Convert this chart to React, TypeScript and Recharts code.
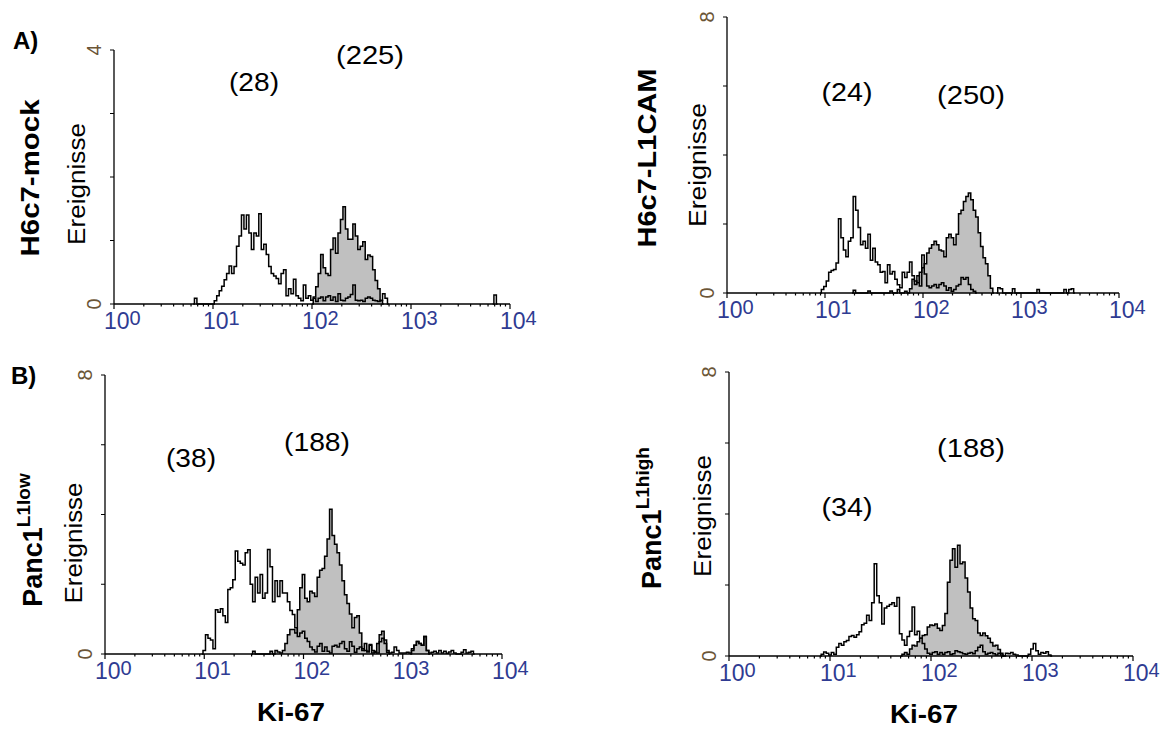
import React from 'react';
import { ComposedChart, Area, Line, XAxis, YAxis } from 'recharts';

const FONT = '"Liberation Sans", Arial, Helvetica, sans-serif';
const TICK_BLUE = '#2f3b92';
const Y_LABEL_COLOR = '#6b5536';
const FILL_GRAY = '#c0c0c0';

// histogram bins: 40 bins per decade on a 4-decade log axis (x in log10 units)
const BINS_PER_DECADE = 40;
const BIN_COUNT = 160;
const DECADES = [0, 1, 2, 3, 4];
const MINOR_MULTIPLIERS = [2, 3, 4, 5, 6, 7, 8, 9];

type Segment = { start: number; values: number[] };

// ---- A) H6c7-mock (y max 4)
const mockOpen: Segment[] = [
  { start: 32, values: [0, 0.09, 0, 0, 0, 0, 0, 0, 0,
    0.05, 0.13, 0.21, 0.28, 0.38, 0.48, 0.6, 0.48, 0.59, 0.91,
    1.07, 1.4, 1.18, 1.4, 1.12, 0.86, 1.12, 1.07, 1.42, 0.86,
    0.94, 0.78, 0.59, 0.48, 0.44, 0.4, 0.32, 0.48, 0.54, 0.13,
    0.24, 0.16, 0.39, 0.13, 0.09, 0.05, 0.3, 0.09, 0.13, 0.06,
    0.09, 0.04, 0.09, 0.11, 0.05, 0.11, 0.13, 0.06, 0.11, 0.04,
    0.16, 0.06, 0.05, 0.09, 0.11, 0.15, 0.3, 0.06, 0.05, 0.06,
    0.04, 0.09, 0.11, 0.09, 0.06, 0.05, 0.04, 0.06, 0.16, 0.09, 0] },
  { start: 153, values: [0, 0.14, 0] },
];
const mockFilled: Segment[] = [
  { start: 80, values: [0, 0.11, 0.27, 0.48, 0.78, 0.57, 0.48, 0.45, 0.86, 1.04,
    0.8, 1.12, 1.33, 1.53, 1.18, 1.02, 1.02, 1.26, 1.07, 0.86,
    0.91, 0.98, 0.7, 0.77, 0.75, 0.54, 0.37, 0.24, 0.05, 0] },
];

// ---- A) H6c7-L1CAM (y max 8)
const l1camOpen: Segment[] = [
  { start: 38, values: [0, 0.1, 0.19, 0.35, 0.6, 0.65, 0.68, 0.87, 2.15, 1.6,
    1.25, 1.05, 1.5, 1.6, 2.8, 2.4, 1.9, 1.4, 1.5, 1.3,
    1.7, 0.95, 1.3, 0.9, 0.82, 0.6, 0.62, 0.3, 0.82, 0.55,
    0.62, 0.4, 0.24, 0.15, 0.6, 0.45, 0.6, 0.9, 0.5, 0.25,
    0.5, 0.2, 1.1, 0.55, 0.2, 0.15, 0.2, 0.25, 0.15, 0.25,
    0.3, 0.2, 0.08, 0.15, 0.05, 0.1, 0.2, 0.25, 0.45, 0.4,
    0.45, 0.25, 0.1, 0.05, 0] },
  { start: 110, values: [0, 0.15, 0.12, 0, 0, 0, 0, 0.12, 0,
    0, 0, 0, 0, 0, 0, 0, 0, 0.1, 0, 0, 0, 0, 0, 0, 0, 0, 0, 0,
    0.1, 0, 0.1, 0.12, 0] },
];
const l1camFilled: Segment[] = [
  { start: 51, values: [0, 0.08, 0, 0, 0, 0, 0, 0.06, 0, 0, 0, 0, 0, 0, 0, 0,
    0.06, 0, 0, 0.1, 0, 0, 0.05, 0,
    0.12, 0.4, 0.35, 0.3, 0.6, 0.73, 0.85, 1.16, 1.3, 1.4,
    1.5, 1.4, 1.25, 1.22, 1.05, 1.6, 1.7, 1.6, 1.4, 1.7,
    2.3, 2.4, 2.65, 2.8, 2.9, 2.7, 2.4, 2.2, 1.75, 1.35,
    1.02, 0.85, 0.5, 0.14, 0] },
];

// ---- B) Panc1 L1low (y max 8)
const lowOpen: Segment[] = [
  { start: 39, values: [0, 0.1, 0.55, 0.45, 0.4, 0.15, 1.27, 1.2, 1.3, 1.1,
    0.9, 1.85, 1.9, 2.13, 2.95, 2.66, 2.6, 2.55, 2.9, 2.99,
    2.0, 1.5, 2.2, 1.75, 2.28, 1.6, 1.75, 3.0, 2.5, 1.5,
    2.1, 1.65, 2.1, 1.75, 1.75, 1.5, 1.25, 1.13, 0.75, 0.5,
    0.6, 0.65, 0.45, 0.36, 0.2, 0.12, 0.06, 0.22, 0.3, 0.08,
    0.2, 0.08, 0.03, 0.22, 0.25, 0.2, 0.3, 0.36, 0.15, 0.08,
    0.35, 0.22, 0.05, 0.15, 0.2, 0.15, 0.1, 0.06, 0.27, 0.1,
    0.05, 0.03, 0.35, 0.45, 0.3, 0.1, 0.03, 0.05, 0.2, 0.1,
    0.03, 0.03, 0.03, 0.05, 0.03, 0.15, 0.25, 0.36, 0.3, 0.25,
    0.5, 0.1, 0.03, 0.05, 0.08, 0.03, 0.1, 0.03, 0.08, 0.02,
    0.06, 0.1, 0.03, 0, 0, 0.05, 0.12, 0.03, 0.05, 0.08, 0] },
];
const lowFilled: Segment[] = [
  { start: 59, values: [0, 0.08, 0, 0, 0, 0, 0, 0, 0.08, 0,
    0.1, 0.06, 0.03, 0.1, 0.3, 0.55, 0.7, 0.7, 0.6, 1.27,
    1.9, 2.28, 1.6, 1.5, 1.8, 1.75, 1.65, 2.2, 2.4, 2.45,
    2.8, 3.3, 4.15, 3.4, 3.15, 2.9, 2.55, 2.1, 1.7, 1.45,
    1.15, 0.75, 1.05, 1.1, 0.6, 0.1, 0.3, 0.08, 0.25, 0.03,
    0.08, 0.3, 0.55, 0.65, 0.4, 0.05, 0] },
  { start: 123, values: [0, 0.1, 0.25, 0.36, 0.3, 0.25, 0.5, 0.1, 0] },
];

// ---- B) Panc1 L1high (y max 8)
const highOpen: Segment[] = [
  { start: 36, values: [0, 0.05, 0.11, 0.08, 0.03, 0.1, 0.05, 0.25, 0.35, 0.3,
    0.4, 0.44, 0.55, 0.58, 0.53, 0.6, 0.68, 0.88, 0.92, 1.15,
    1.0, 1.5, 2.6, 1.7, 1.5, 0.9, 1.35, 1.4, 1.45, 1.5,
    1.4, 1.65, 0.63, 0.45, 0.3, 0.55, 0.7, 1.38, 0.6, 0.7,
    0.5, 0.35, 0.2, 0.08, 0.05, 0.1, 0.12, 0.05, 0.1, 0.05,
    0.1, 0.12, 0.04, 0.06, 0.15, 0.12, 0.1, 0.06, 0.05, 0.08,
    0.1, 0.06, 0.15, 0.25, 0.3, 0.12, 0.05, 0.08, 0.1, 0.06,
    0.03, 0.08, 0.03, 0, 0.08, 0.06, 0.1, 0.05, 0.03, 0,
    0, 0, 0, 0.05, 0.2, 0.35, 0.15, 0.05, 0.1, 0.08,
    0.12, 0.03, 0] },
];
const highFilled: Segment[] = [
  { start: 68, values: [0, 0.05, 0.1, 0.05, 0.2, 0.3, 0.28, 0.4, 0.5, 0.58,
    0.6, 0.82, 0.87, 0.86, 0.9, 0.78, 0.72, 0.86, 1.2, 2.08,
    2.7, 3.02, 2.5, 3.12, 2.6, 2.65, 2.2, 1.8, 1.35, 1.05,
    1.0, 0.65, 0.58, 0.65, 0.57, 0.5, 0.38, 0.28, 0.3, 0.18,
    0.08, 0] },
];

type Row = { x: number; open: number | null; filled: number | null };

function buildRows(open: Segment[], filled: Segment[]): Row[] {
  const rows: Row[] = [];
  for (let k = 0; k <= BIN_COUNT; k++) rows.push({ x: k / BINS_PER_DECADE, open: null, filled: null });
  open.forEach((s) => s.values.forEach((v, i) => { rows[s.start + i].open = v; }));
  filled.forEach((s) => s.values.forEach((v, i) => { rows[s.start + i].filled = v; }));
  return rows;
}

const X_TICKS: number[] = [];
DECADES.forEach((d) => {
  X_TICKS.push(d);
  if (d < 4) MINOR_MULTIPLIERS.forEach((m) => X_TICKS.push(d + Math.log10(m)));
});

const renderXTick = (props: any) => {
  const { x, y, payload } = props;
  const v = payload.value as number;
  const major = Math.abs(v - Math.round(v)) < 1e-6;
  return (
    <g>
      <line x1={x} x2={x} y1={y} y2={y + (major ? 5 : 2.5)} stroke="#000" strokeWidth={1.2} />
      {major && (
        <text x={x - 10} y={y + 25} fill={TICK_BLUE} fontSize={23} fontFamily={FONT}>
          10<tspan dy={-4} fontSize={20}>{String(Math.round(v))}</tspan>
        </text>
      )}
    </g>
  );
};

const makeYTick = (yMax: number) => (props: any) => {
  const { x, y, payload } = props;
  const v = payload.value as number;
  const show = v === 0 || v === yMax;
  return (
    <g>
      <line x1={x - 4} x2={x} y1={y} y2={y} stroke="#000" strokeWidth={1} />
      {show && (
        <text transform={`translate(${x - 20},${y}) rotate(-90)`} textAnchor="middle"
          dominantBaseline="central" fontSize={20} fill={Y_LABEL_COLOR} fontFamily={FONT}>
          {String(v)}
        </text>
      )}
    </g>
  );
};

type Plot = { l: number; t: number; r: number; b: number };
const Y_AXIS_W = 60;
const PAD_R = 60;
const PAD_T = 10;
const X_AXIS_H = 45;

function Panel({ rows, yMax, plot }: { rows: Row[]; yMax: number; plot: Plot }) {
  const width = plot.r - plot.l + Y_AXIS_W + PAD_R;
  const height = plot.b - plot.t + PAD_T + X_AXIS_H;
  const yTicks = [0, 1, 2, 3, 4].map((i) => (yMax * i) / 4);
  return (
    <div style={{ position: 'absolute', left: plot.l - Y_AXIS_W, top: plot.t - PAD_T, width, height }}>
      <ComposedChart width={width} height={height} data={rows}
        margin={{ top: PAD_T, right: PAD_R, bottom: 0, left: 0 }}>
        <XAxis type="number" dataKey="x" domain={[0, 4]} ticks={X_TICKS} interval={0}
          tickSize={0} tickMargin={0} tickLine={false} height={X_AXIS_H}
          axisLine={{ stroke: '#000', strokeWidth: 1.3 }} tick={renderXTick} />
        <YAxis type="number" domain={[0, yMax]} ticks={yTicks} interval={0} width={Y_AXIS_W}
          tickSize={0} tickMargin={0} tickLine={false}
          axisLine={{ stroke: '#000', strokeWidth: 1.3 }} tick={makeYTick(yMax)} />
        <Area type="step" dataKey="filled" stroke="#000" strokeWidth={1.5} fill={FILL_GRAY}
          fillOpacity={1} isAnimationActive={false} dot={false} activeDot={false} />
        <Line type="step" dataKey="open" stroke="#000" strokeWidth={1.5} dot={false}
          activeDot={false} isAnimationActive={false} />
      </ComposedChart>
    </div>
  );
}

const A_LEFT: Plot = { l: 114, t: 50, r: 510, b: 304 };
const A_RIGHT: Plot = { l: 727, t: 17, r: 1119, b: 293 };
const B_LEFT: Plot = { l: 105, t: 375, r: 502, b: 654 };
const B_RIGHT: Plot = { l: 729, t: 372, r: 1133, b: 656 };

function VText({ x, y, len, size, bold, children }: any) {
  return (
    <text transform={`translate(${x},${y}) rotate(-90)`} textAnchor="middle" dominantBaseline="central"
      fontSize={size} fontWeight={bold ? 'bold' : 'normal'} fontFamily={FONT} fill="#000"
      textLength={len} lengthAdjust="spacingAndGlyphs">
      {children}
    </text>
  );
}

function HText({ x, y, len, size, bold, children }: any) {
  return (
    <text x={x} y={y} textAnchor="middle" dominantBaseline="central" fontSize={size}
      fontWeight={bold ? 'bold' : 'normal'} fontFamily={FONT} fill="#000"
      textLength={len} lengthAdjust="spacingAndGlyphs">
      {children}
    </text>
  );
}

function SupLabel({ x, y, main, sup }: { x: number; y: number; main: string; sup: string }) {
  return (
    <text transform={`translate(${x},${y}) rotate(-90)`} textAnchor="middle" dominantBaseline="central"
      fontFamily={FONT} fontWeight="bold" fill="#000" fontSize={27}>
      {main}<tspan dy={-10} fontSize={19}>{sup}</tspan>
    </text>
  );
}

export default function App() {
  const rowsMock = buildRows(mockOpen, mockFilled);
  const rowsL1 = buildRows(l1camOpen, l1camFilled);
  const rowsLow = buildRows(lowOpen, lowFilled);
  const rowsHigh = buildRows(highOpen, highFilled);
  return (
    <div style={{ position: 'absolute', left: 0, top: 0, width: 1173, height: 729, background: '#fff', overflow: 'hidden' }}>
      <Panel rows={rowsMock} yMax={4} plot={A_LEFT} />
      <Panel rows={rowsL1} yMax={8} plot={A_RIGHT} />
      <Panel rows={rowsLow} yMax={8} plot={B_LEFT} />
      <Panel rows={rowsHigh} yMax={8} plot={B_RIGHT} />
      <svg width={1173} height={729} style={{ position: 'absolute', left: 0, top: 0, pointerEvents: 'none' }}>
        <text x={13} y={49} fontFamily={FONT} fontWeight="bold" fontSize={24} fill="#000">A)</text>
        <text x={11} y={384} fontFamily={FONT} fontWeight="bold" fontSize={24} fill="#000">B)</text>

        <VText x={30} y={178} len={157} size={26} bold>H6c7-mock</VText>
        <VText x={77} y={184} len={122} size={23}>Ereignisse</VText>
        <HText x={254} y={82} len={50} size={25}>(28)</HText>
        <HText x={370} y={55} len={68} size={25}>(225)</HText>

        <VText x={647} y={158} len={179} size={26} bold>H6c7-L1CAM</VText>
        <VText x={698} y={165} len={124} size={23}>Ereignisse</VText>
        <HText x={847} y={92} len={51} size={25}>(24)</HText>
        <HText x={971} y={95} len={68} size={25}>(250)</HText>

        <SupLabel x={33} y={540} main="Panc1" sup="L1low" />
        <VText x={74} y={543} len={121} size={23}>Ereignisse</VText>
        <HText x={191} y={458} len={50} size={25}>(38)</HText>
        <HText x={317} y={442} len={66} size={25}>(188)</HText>
        <HText x={291} y={712} len={68} size={25} bold>Ki-67</HText>

        <SupLabel x={652} y={518} main="Panc1" sup="L1high" />
        <VText x={703} y={516} len={122} size={23}>Ereignisse</VText>
        <HText x={847} y={507} len={51} size={25}>(34)</HText>
        <HText x={971} y={448} len={68} size={25}>(188)</HText>
        <HText x={924} y={714} len={68} size={25} bold>Ki-67</HText>
      </svg>
    </div>
  );
}
